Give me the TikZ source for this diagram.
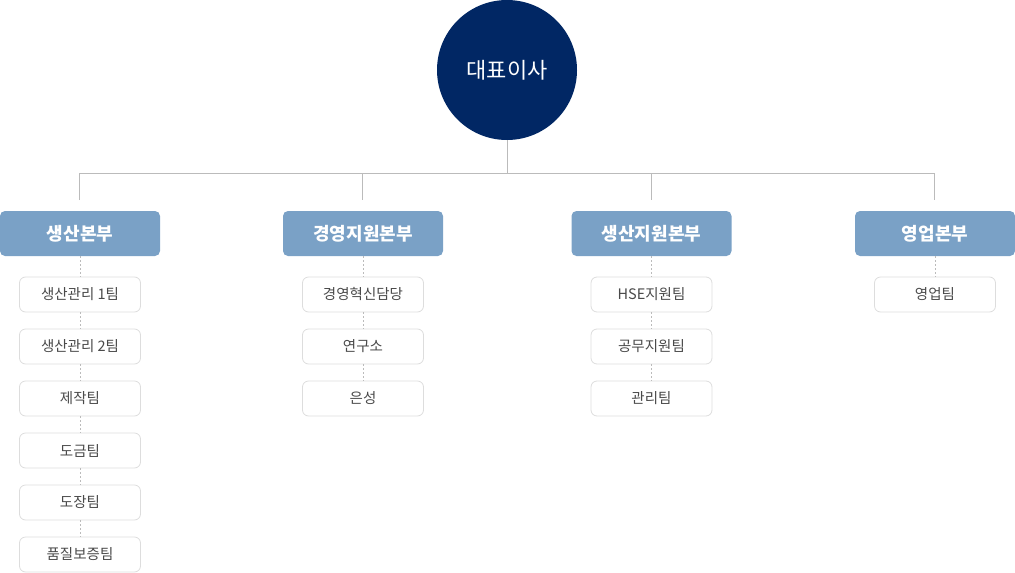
\documentclass[tikz,border=0pt]{standalone}
\usepackage{fontspec}
\setmainfont{Noto Sans CJK KR}
\begin{document}
\begin{tikzpicture}[x=1pt,y=-1pt,
  ceo/.style={circle,fill=ceoblue,minimum size=140pt,inner sep=0pt,text=white,font=\fontsize{22}{26}\selectfont},
  dept/.style={rectangle,rounded corners=5pt,fill=deptblue,minimum width=160pt,minimum height=45pt,inner sep=0pt,text=white,font=\fontsize{18}{21}\selectfont\bfseries},
  team/.style={rectangle,rounded corners=6pt,draw=boxgray,line width=0.8pt,fill=white,minimum width=121pt,minimum height=35pt,inner sep=0pt,text=textgray,font=\fontsize{14.5}{17}\selectfont},
  conn/.style={draw=linegray,line width=1pt},
  dots/.style={draw=linegray,line width=0.8pt,dash pattern=on 2pt off 2pt}
]
\definecolor{ceoblue}{HTML}{012764}
\definecolor{deptblue}{HTML}{7AA1C6}
\definecolor{boxgray}{HTML}{DDDDDD}
\definecolor{textgray}{HTML}{4A4A4A}
\definecolor{linegray}{HTML}{BBBBBB}
\useasboundingbox (0,0) rectangle (1015,573);

\node[ceo] (ceo) at (507,70) {대표이사};
\coordinate (hub) at (507,173);

\node[dept] (d1) at (80,233.5) {생산본부};
\node[dept] (d2) at (363,233.5) {경영지원본부};
\node[dept] (d3) at (651.5,233.5) {생산지원본부};
\node[dept] (d4) at (935,233.5) {영업본부};

\coordinate (c1) at (79.5,173); \coordinate (e1) at (79.5,200);
\coordinate (c2) at (362.5,173); \coordinate (e2) at (362.5,200);
\coordinate (c3) at (651,173); \coordinate (e3) at (651,200);
\coordinate (c4) at (934.5,173); \coordinate (e4) at (934.5,200);

\draw[conn] (ceo.south) -- (hub);
\draw[conn] (e1) -- (c1) -- (c4) -- (e4);
\draw[conn] (c2) -- (e2);
\draw[conn] (c3) -- (e3);

% teams column 1
\node[team] (t11) at (80,294.5) {생산관리 1팀};
\node[team] (t12) at (80,346.5) {생산관리 2팀};
\node[team] (t13) at (80,398.5) {제작팀};
\node[team] (t14) at (80,450.5) {도금팀};
\node[team] (t15) at (80,502.5) {도장팀};
\node[team] (t16) at (80,554.5) {품질보증팀};
% column 2
\node[team] (t21) at (363,294.5) {경영혁신담당};
\node[team] (t22) at (363,346.5) {연구소};
\node[team] (t23) at (363,398.5) {은성};
% column 3
\node[team] (t31) at (651.5,294.5) {HSE지원팀};
\node[team] (t32) at (651.5,346.5) {공무지원팀};
\node[team] (t33) at (651.5,398.5) {관리팀};
% column 4
\node[team] (t41) at (935,294.5) {영업팀};

\draw[dots] (d1.south) -- (t11.north);
\draw[dots] (t11.south) -- (t12.north);
\draw[dots] (t12.south) -- (t13.north);
\draw[dots] (t13.south) -- (t14.north);
\draw[dots] (t14.south) -- (t15.north);
\draw[dots] (t15.south) -- (t16.north);
\draw[dots] (d2.south) -- (t21.north);
\draw[dots] (t21.south) -- (t22.north);
\draw[dots] (t22.south) -- (t23.north);
\draw[dots] (d3.south) -- (t31.north);
\draw[dots] (t31.south) -- (t32.north);
\draw[dots] (t32.south) -- (t33.north);
\draw[dots] (d4.south) -- (t41.north);
\end{tikzpicture}
\end{document}
